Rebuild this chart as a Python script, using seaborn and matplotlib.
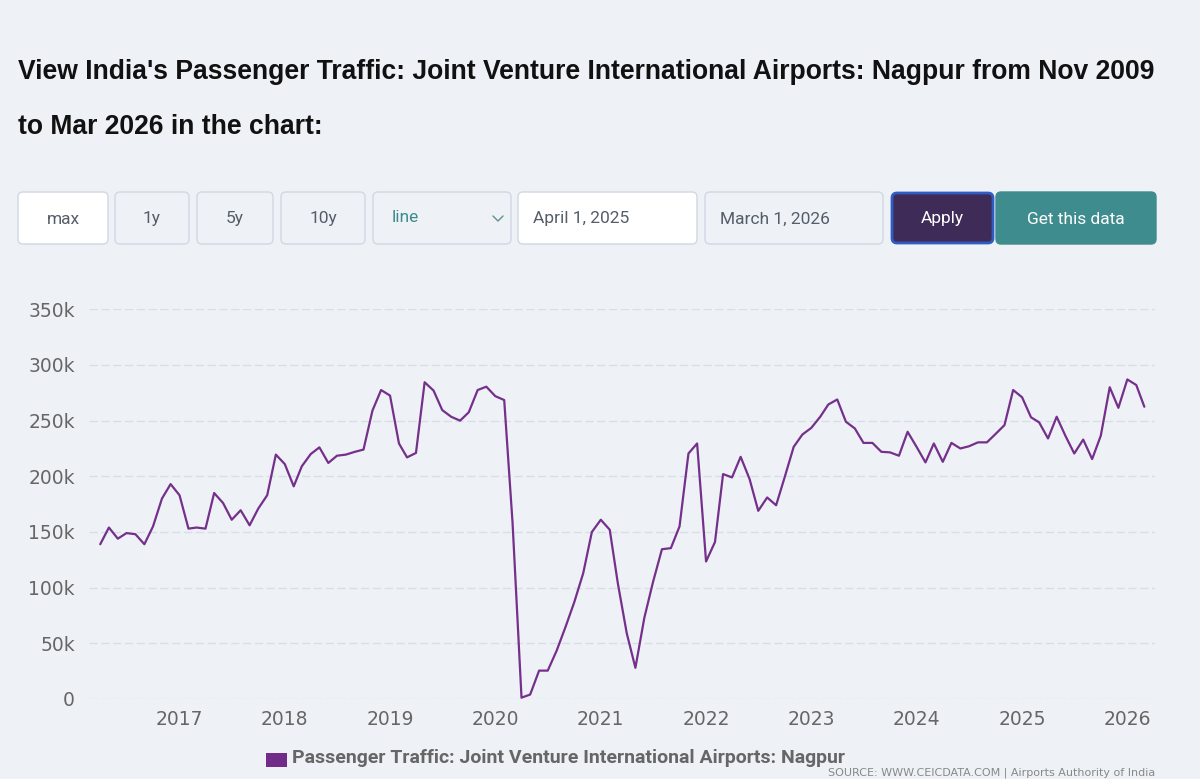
import pandas as pd
import numpy as np
import matplotlib
matplotlib.use("Agg")
import matplotlib.pyplot as plt
import matplotlib.dates as mdates
from matplotlib.patches import FancyBboxPatch, Rectangle
from matplotlib.lines import Line2D
import seaborn as sns

# Monthly passenger traffic, Apr 2016 - Mar 2026
months = pd.date_range("2016-04-01", "2026-03-01", freq="MS")
traffic = [
    139000, 154000, 144000, 149000, 148000, 139000, 155000, 180000, 193000,
    183000, 153000, 154000, 153000, 185000, 176000, 161000, 169500, 156000, 171000, 183000, 219500,
    211000, 191000, 209000, 220000, 226000, 212000, 218500, 219500, 222000, 224000, 259000, 277500,
    272500, 229500, 217000, 221000, 284500, 277000, 259500, 253500, 250000, 257500, 277500, 280500,
    272000, 268500, 158000, 1200, 4000, 25500, 25500, 43500, 65000, 87000, 113000, 150000,
    161000, 152000, 104000, 59000, 28000, 73000, 105000, 134500, 135500, 155000, 220500, 229500,
    123500, 141000, 202000, 199000, 217500, 197500, 169000, 181000, 174000, 199500, 226500, 237500,
    243500, 253500, 264500, 269000, 249000, 243000, 230000, 230000, 222000, 221500, 218500, 240000,
    226500, 212500, 229500, 213000, 230000, 225000, 227000, 230500, 230500, 238000, 246000, 277500,
    271000, 253000, 248500, 234000, 253500, 236000, 220500, 233000, 215500, 236500, 280000, 261500,
    287000, 282000, 262500,
]
year_ticks = [2017, 2018, 2019, 2020, 2021, 2022, 2023, 2024, 2025, 2026]
y_ticks = [0, 50000, 100000, 150000, 200000, 250000, 300000, 350000]

series_name = "Passenger Traffic: Joint Venture International Airports: Nagpur"
title_1 = "View India's Passenger Traffic: Joint Venture International Airports: Nagpur from Nov 2009"
title_2 = "to Mar 2026 in the chart:"
source = "SOURCE: WWW.CEICDATA.COM | Airports Authority of India"

df = pd.DataFrame({"month": months, "traffic": traffic})

BG = "#eef2f7"
LINE = "#74308a"
W, H = 1200, 779

sns.set_theme(style="white")
plt.rcParams["font.family"] = ["DejaVu Sans"]

fig = plt.figure(figsize=(W / 100, H / 100), dpi=100, facecolor=BG)
ax = fig.add_axes([89 / W, (H - 699) / H, (1155 - 89) / W, (699 - 309.3) / H])
ax.set_facecolor(BG)

sns.lineplot(data=df, x="month", y="traffic", ax=ax, color=LINE, linewidth=1.6,
             legend=False, clip_on=False)

ax.set_ylim(0, 350000)
ax.set_xlim(pd.Timestamp("2016-02-22"), pd.Timestamp("2026-04-07"))
ax.set_yticks(y_ticks)
ax.set_yticklabels(["0" if v == 0 else f"{v // 1000}k" for v in y_ticks])
ax.set_xticks([pd.Timestamp(f"{y}-01-01") for y in year_ticks])
ax.set_xticklabels([str(y) for y in year_ticks])
ax.set_xlabel("")
ax.set_ylabel("")
for s in ax.spines.values():
    s.set_visible(False)
ax.tick_params(axis="both", length=0, labelsize=13.5, labelcolor="#666666")
ax.tick_params(axis="y", pad=10)
ax.tick_params(axis="x", pad=8)
ax.grid(axis="y", color="#d9dee6", linewidth=1, linestyle=(0, (6, 2.5)))
ax.grid(axis="x", visible=False)
ax.set_axisbelow(True)

tr = fig.dpi_scale_trans


def box(x0, y0, x1, y1, fc, ec, lw=1.0, r=5):
    p = FancyBboxPatch((x0 / 100, (H - y1) / 100), (x1 - x0) / 100, (y1 - y0) / 100,
                       boxstyle=f"round,pad=0,rounding_size={r / 100}",
                       fc=fc, ec=ec, lw=lw, transform=tr)
    fig.patches.append(p)


def label(x, y, s, **kw):
    fig.text(x / 100, (H - y) / 100, s, transform=tr, va="center", **kw)


# title
label(18, 72, title_1, fontsize=19.1, weight="bold", color="#111111", family="Liberation Sans")
label(18, 127, title_2, fontsize=19.1, weight="bold", color="#111111", family="Liberation Sans")

# control row
btn_font = dict(fontsize=12.5, family="Roboto")
box(18, 192, 108, 244, "white", "#cfd8e3")
label(63, 219, "max", ha="center", color="#555d69", **btn_font)
for x0, x1, t in [(115, 189, "1y"), (197, 273, "5y"), (281, 365, "10y")]:
    box(x0, 192, x1, 244, BG, "#cfd8e3")
    label((x0 + x1) / 2, 219, t, ha="center", color="#555d69", **btn_font)
box(373, 192, 511, 244, BG, "#cfd8e3")
label(392, 218, "line", ha="left", color="#3d8b8c", **btn_font)
fig.lines.append(Line2D([4.93, 4.98, 5.03], [(H - 216) / 100, (H - 221) / 100, (H - 216) / 100],
                        transform=tr, color="#5f8f93", lw=1))
box(518, 192, 697, 244, "white", "#cfd8e3")
label(533, 219, "April 1, 2025", ha="left", color="#555d69", **btn_font)
box(705, 192, 883, 244, BG, "#cfd8e3")
label(720, 219, "March 1, 2026", ha="left", color="#555d69", **btn_font)
box(892, 193, 993, 243, "#3f2b58", "#2f5cc2", lw=2)
label(942, 219, "Apply", ha="center", color="white", **btn_font)
box(996, 192, 1156, 244, "#3f8c8f", "#3f8c8f")
label(1076, 219, "Get this data", ha="center", color="white", **btn_font)

# legend
fig.patches.append(Rectangle((266 / 100, (H - 767) / 100), 20.5 / 100, 14 / 100,
                             transform=tr, fc="#712b88", ec="none"))
label(292, 758, series_name, ha="left", fontsize=14, weight="bold", color="#666666",
      family="Roboto")

# source line at the very bottom
fig.text(1155 / 100, (H - 778) / 100, source, transform=tr, ha="right", va="bottom",
         fontsize=8, color="#888888")

fig.savefig("out.png", dpi=100, facecolor=BG)
